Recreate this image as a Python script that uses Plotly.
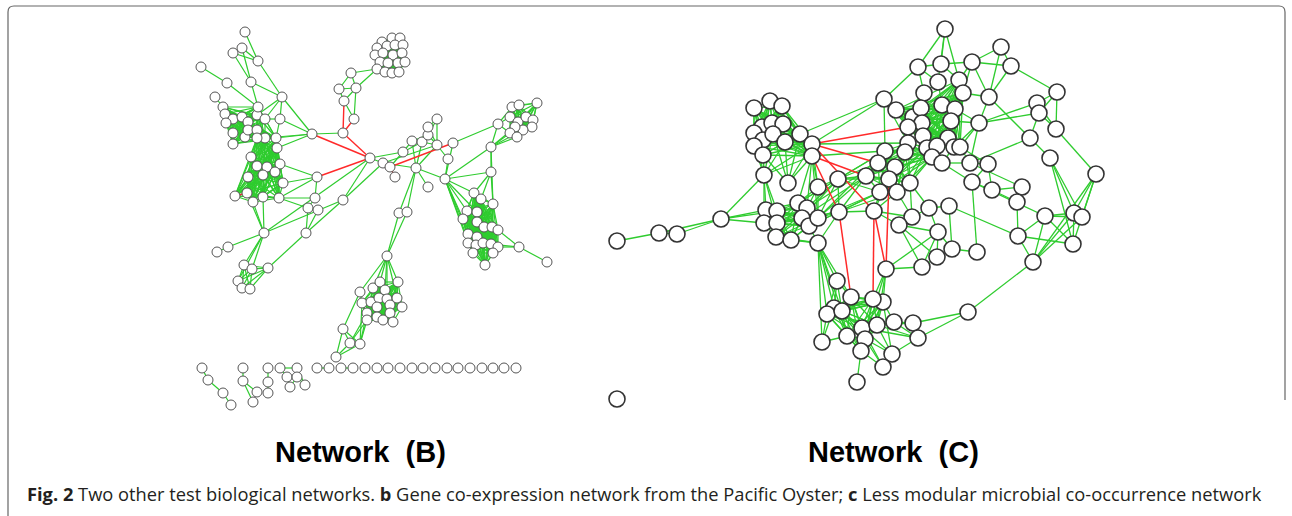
import itertools
import plotly.graph_objects as go

# ---------------- Network B : nodes ----------------
B_NAMES = (["a%d" % i for i in range(1, 12)]
           + ["h1", "h2", "hub", "h3", "h4", "h5", "h6", "h7", "h8"]
           + ["t%d" % i for i in range(1, 6)]
           + ["tc%d" % i for i in range(1, 20)]
           + ["c%d" % i for i in range(1, 31)]
           + ["m%d" % i for i in range(1, 13)] + ["v1", "v2", "v3", "n1", "n2"]
           + ["r%d" % i for i in range(1, 14)]
           + ["s%d" % i for i in range(1, 23)]
           + ["l%d" % i for i in range(1, 11)] + ["w1", "w2"]
           + ["b%d" % i for i in range(1, 20)]
           + ["bb%d" % i for i in range(1, 5)]
           + ["k%d" % i for i in range(1, 18)]
           + ["row%d" % i for i in range(1, 19)])

B_X = ([245, 201, 233, 242, 258, 251, 227, 215, 223, 282, 280]
       + [312, 343, 370, 383, 390, 395, 317, 315, 343]
       + [351, 339, 356, 344, 354]
       + [382, 392, 400, 377, 387, 395, 403, 375, 383, 393, 402, 380, 388, 398, 405, 377, 385, 392, 399]
       + [225, 233, 242, 248, 257, 265, 258, 226, 233, 245, 248, 257, 265, 257, 276, 233, 251, 277, 257, 267,
          280, 275, 263, 248, 283, 247, 235, 253, 263, 279]
       + [403, 412, 422, 428, 428, 437, 437, 453, 448, 416, 428, 445] + [399, 407, 387, 491, 491]
       + [498, 512, 519, 537, 510, 518, 526, 533, 532, 523, 515, 510, 517]
       + [474, 481, 493, 467, 477, 463, 477, 484, 492, 468, 477, 498, 468, 476, 483, 491, 498, 473, 493, 485, 519, 547]
       + [264, 228, 217, 306, 244, 252, 268, 238, 242, 250] + [308, 318]
       + [360, 373, 380, 385, 398, 362, 371, 379, 387, 397, 402, 377, 390, 367, 377, 383, 390, 393, 367]
       + [343, 350, 360, 336]
       + [202, 208, 223, 231, 243, 243, 257, 253, 268, 268, 268, 280, 287, 290, 297, 297, 305]
       + [317, 329, 341, 353, 365, 377, 388, 400, 412, 423, 435, 447, 458, 470, 482, 493, 504, 516])

B_Y = ([32, 67, 53, 48, 61, 82, 83, 97, 107, 97, 119]
       + [134, 133, 158, 163, 167, 177, 177, 198, 200]
       + [73, 89, 88, 101, 119]
       + [42, 38, 38, 48, 46, 45, 45, 55, 53, 55, 53, 62, 63, 63, 62, 69, 72, 73, 72]
       + [114, 119, 117, 122, 115, 119, 107, 123, 133, 137, 130, 130, 138, 138, 138, 144, 157, 148, 166, 167,
          164, 172, 175, 177, 183, 193, 196, 202, 197, 198]
       + [152, 141, 142, 135, 127, 119, 145, 143, 159, 168, 187, 179] + [213, 212, 256, 147, 172]
       + [124, 107, 105, 103, 117, 122, 117, 120, 127, 130, 127, 133, 137]
       + [193, 199, 204, 211, 212, 219, 222, 227, 227, 234, 237, 230, 243, 245, 243, 244, 247, 253, 253, 265, 247, 262]
       + [233, 247, 252, 233, 265, 269, 268, 281, 288, 289] + [208, 210]
       + [292, 288, 282, 290, 282, 303, 302, 298, 299, 298, 307, 307, 305, 313, 317, 320, 313, 322, 320]
       + [329, 343, 344, 357]
       + [368, 380, 393, 405, 368, 381, 392, 402, 368, 382, 393, 368, 377, 387, 368, 377, 385]
       + [368] * 18)

B_GREEN = [("a1", "a5"), ("a3", "a4"), ("a3", "a5"), ("a4", "a5"), ("a3", "a6"), ("a4", "a6"), ("a5", "a10"),
           ("a6", "c7"), ("a6", "a10"), ("a2", "a7"), ("a7", "c7"), ("a8", "a9"), ("a9", "c1"), ("a10", "a11"),
           ("a10", "c5"), ("a10", "c6"), ("a10", "h1"), ("a11", "h1"), ("a11", "c6"), ("a11", "c15"),
           ("c15", "h1"), ("c13", "h1"), ("c18", "h1"), ("h1", "h2"),
           ("t1", "t2"), ("t1", "t3"), ("t2", "t3"), ("t2", "t4"), ("t3", "t4"), ("t3", "t5"), ("t4", "t5"),
           ("t1", "tc16"), ("t3", "tc16"),
           ("hub", "h3"), ("h3", "h4"), ("h3", "m10"), ("h3", "m7"), ("hub", "m1"), ("h4", "m1"),
           ("m1", "m2"), ("m1", "m3"), ("m2", "m3"), ("m2", "m4"), ("m3", "m4"), ("m4", "m5"), ("m5", "m6"),
           ("m4", "m6"), ("m3", "m7"), ("m4", "m7"), ("m6", "m7"), ("m5", "m7"), ("m2", "m10"), ("m3", "m10"),
           ("m7", "m10"), ("m10", "m11"), ("m10", "v1"), ("m10", "v2"), ("m10", "m12"), ("m8", "m12"),
           ("m9", "m12"), ("m7", "m9"), ("m8", "r1"), ("m12", "n1"), ("m12", "n2"),
           ("m12", "s1"), ("m12", "s4"), ("m12", "s6"), ("m12", "s10"), ("m12", "s13"), ("m12", "s18"),
           ("m12", "s5"), ("r1", "r2"), ("r1", "r5"), ("r1", "r12"), ("r1", "n1"), ("n1", "r12"), ("n1", "r13"),
           ("n1", "r11"), ("n1", "r10"), ("n1", "n2"), ("n2", "s1"), ("n2", "s2"), ("n2", "s3"), ("n1", "s3"),
           ("s12", "s21"), ("s17", "s21"), ("s16", "s21"), ("s21", "s22"),
           ("hub", "h8"), ("hub", "l1"), ("h8", "h3"), ("h8", "l1"), ("l1", "l2"), ("l2", "l3"), ("l1", "l5"),
           ("l1", "l6"), ("l1", "l8"), ("l1", "c28"), ("l1", "c29"), ("l1", "c26"), ("l4", "l7"), ("l4", "w1"),
           ("l4", "w2"), ("l4", "h8"), ("w1", "w2"), ("w1", "h7"), ("h6", "c21"), ("h6", "c25"), ("h6", "c30"),
           ("h6", "h7"), ("h7", "c30"), ("w1", "c30"),
           ("v1", "v2"), ("v1", "v3"), ("v2", "v3"), ("v3", "b2"), ("v3", "b3"), ("v3", "b4"), ("v3", "b5"),
           ("v3", "b9"), ("v3", "b10"), ("v3", "b1"), ("b1", "bb1"), ("b1", "b6"), ("bb1", "bb2"),
           ("bb1", "bb3"), ("bb2", "bb3"), ("bb2", "bb4"), ("bb3", "bb4"), ("bb1", "bb4"), ("bb2", "b14"),
           ("bb3", "b14"), ("bb3", "b19"), ("bb2", "b19"), ("bb3", "b6"),
           ("k1", "k2"), ("k2", "k3"), ("k3", "k4"), ("k5", "k6"), ("k6", "k7"), ("k6", "k8"),
           ("k9", "k10"), ("k10", "k11"), ("k12", "k15"), ("k12", "k13"), ("k13", "k16"), ("k15", "k16"),
           ("k15", "k17"), ("k16", "k17"), ("k14", "k16"), ("k13", "k14"),
           ("row1", "row2"), ("row3", "row4")]

B_RED = [("h1", "hub"), ("h2", "hub"), ("h6", "hub"), ("t4", "h2"), ("t5", "h2"), ("h4", "m8"),
         ("h4", "h5"), ("c27", "c26")]

B_GROUPS = [["a9", "c1", "c2", "c3", "c4", "c5", "c6", "c7", "c8", "c9", "c10", "c11", "c12", "c13", "c14",
             "c15", "c16"],
            ["c13", "c14", "c15", "c17", "c18", "c19", "c20", "c21", "c22", "c23", "c24", "c25", "c26", "c27",
             "c28", "c29", "c30"],
            ["tc%d" % i for i in range(1, 20)],
            ["r%d" % i for i in range(2, 14)],
            ["s%d" % i for i in range(1, 21)],
            ["b%d" % i for i in range(2, 20)],
            ["l5", "l6", "l7", "l8", "l9", "l10"]]

# ---------------- Network C : nodes ----------------
C_NAMES = (["p0", "p1", "p2", "p3", "p4"]
           + ["q%d" % i for i in range(1, 18)]
           + ["u%d" % i for i in range(1, 16)]
           + ["d%d" % i for i in range(1, 49)]
           + ["e%d" % i for i in range(1, 15)]
           + ["f%d" % i for i in range(1, 12)]
           + ["g%d" % i for i in range(1, 17)])

C_X = ([617, 617, 659, 677, 721]
       + [754, 770, 782, 762, 772, 783, 754, 763, 773, 785, 800, 754, 763, 812, 812, 764, 788]
       + [766, 777, 798, 807, 764, 777, 802, 809, 818, 776, 791, 818, 818, 838, 839]
       + [945, 1001, 1011, 918, 941, 972, 938, 959, 963, 989, 924, 884, 896, 913, 921, 942, 955, 951, 922, 908,
          979, 923, 908, 948, 927, 937, 954, 960, 885, 905, 878, 895, 932, 942, 970, 988, 866, 889, 910, 880,
          897, 874, 972, 992, 1022, 1017, 929, 949]
       + [1057, 1037, 1039, 1056, 1030, 1050, 1096, 1045, 1074, 1082, 1073, 1018, 1033, 968]
       + [912, 899, 938, 952, 937, 977, 922, 886, 883, 894, 913]
       + [837, 851, 873, 834, 827, 842, 862, 877, 847, 865, 822, 918, 861, 892, 883, 857])

C_Y = ([399, 241, 233, 234, 219]
       + [108, 101, 106, 127, 123, 124, 133, 140, 134, 142, 134, 146, 155, 144, 156, 175, 183]
       + [210, 211, 203, 208, 223, 223, 218, 226, 218, 237, 240, 243, 187, 179, 212]
       + [29, 47, 66, 67, 64, 62, 82, 80, 93, 97, 93, 99, 110, 117, 108, 105, 109, 121, 123, 127,
          123, 136, 143, 138, 148, 146, 147, 147, 151, 152, 163, 167, 157, 163, 163, 164, 176, 179, 183, 192,
          192, 211, 182, 190, 187, 202, 208, 206]
       + [92, 103, 113, 129, 138, 158, 174, 216, 213, 217, 244, 236, 262, 312]
       + [217, 225, 232, 249, 257, 252, 267, 269, 302, 322, 323]
       + [281, 297, 299, 308, 314, 311, 328, 325, 336, 339, 342, 338, 351, 354, 367, 382])

C_GREEN = [("p1", "p2"), ("p2", "p3"), ("p2", "p4"), ("p3", "p4"), ("p4", "q16"), ("p4", "u1"), ("p4", "u5"),
           ("p4", "u2"),
           ("q16", "q12"), ("q16", "q13"), ("q16", "q7"), ("q16", "q8"), ("q16", "q9"), ("q16", "q10"),
           ("q16", "q15"), ("q16", "q14"), ("q16", "u1"), ("q16", "u2"), ("q16", "u5"), ("q16", "u6"),
           ("q17", "q13"), ("q17", "q10"), ("q17", "q15"), ("q17", "q9"), ("q17", "q14"), ("q17", "q11"),
           ("q11", "d12"), ("q14", "d12"), ("q15", "d29"), ("q14", "d23"),
           ("q15", "u3"), ("q15", "u13"), ("q15", "u4"), ("q14", "u13"), ("q15", "u9"),
           ("u13", "u3"), ("u13", "u4"), ("u13", "u9"), ("u13", "u14"), ("u14", "u9"), ("u14", "u4"),
           ("u14", "u7"), ("u14", "u3"), ("u14", "d37"), ("u14", "d31"), ("u14", "d29"), ("u14", "d40"),
           ("u14", "d38"), ("u15", "u9"), ("u15", "u8"), ("u15", "u12"), ("u15", "u14"), ("u15", "d37"),
           ("u15", "d40"), ("u15", "d41"), ("u15", "d42"), ("u15", "u7"),
           ("u12", "g1"), ("u12", "g4"), ("u12", "g5"), ("u12", "g11"), ("u12", "g6"), ("u12", "g9"),
           ("u12", "g2"), ("u12", "u11"), ("u12", "u8"), ("u12", "u10"),
           ("u9", "d37"), ("u9", "d29"), ("u7", "d37"), ("u4", "d31"), ("u3", "d29"), ("u8", "d40"),
           ("u9", "d40"),
           ("d1", "d4"), ("d1", "d5"), ("d1", "d8"), ("d1", "d7"), ("d2", "d6"), ("d2", "d3"), ("d2", "d10"),
           ("d3", "d6"), ("d3", "d10"), ("d3", "e1"), ("d4", "d5"), ("d4", "d11"), ("d4", "d12"), ("d4", "d7"),
           ("d5", "d6"), ("d5", "d8"), ("d6", "d8"), ("d6", "d9"), ("d6", "d10"), ("d8", "d9"), ("d9", "d10"),
           ("d10", "d21"), ("d10", "e5"), ("d12", "d13"), ("d12", "d14"), ("d12", "d20"), ("d12", "d23"),
           ("d12", "d29"), ("d12", "d22"), ("d21", "e2"), ("d21", "e3"), ("d21", "d17"), ("d21", "d18"),
           ("d21", "d27"), ("d21", "d28"), ("d21", "d35"), ("d7", "d11"), ("d11", "d15"), ("d7", "d16"),
           ("e1", "e2"), ("e1", "e3"), ("e1", "e4"), ("e2", "e3"), ("e2", "e4"), ("e3", "e4"), ("e3", "e5"),
           ("e4", "e7"), ("e5", "e6"), ("e5", "d35"), ("e6", "e9"), ("e6", "e10"), ("e6", "e11"), ("e7", "e9"),
           ("e7", "e10"), ("e7", "e11"), ("e7", "e13"), ("e8", "e9"), ("e8", "e10"), ("e8", "e11"),
           ("e8", "e12"), ("e8", "e13"), ("e9", "e13"), ("e10", "e13"), ("e12", "e13"), ("e11", "e12"),
           ("e11", "e9"), ("e13", "e14"), ("e14", "f11"), ("e14", "g12"), ("e12", "d48"), ("e12", "d46"),
           ("d43", "e8"),
           ("d35", "d45"), ("d36", "d43"), ("d36", "d44"), ("d43", "d44"), ("d44", "d45"), ("d45", "d46"),
           ("d44", "d46"), ("d35", "d36"), ("d28", "d35"), ("d28", "d36"), ("d27", "d34"), ("d34", "d35"),
           ("d33", "d34"), ("d34", "d43"), ("d39", "d47"), ("d41", "f1"), ("d40", "d42"), ("d41", "d42"),
           ("d38", "d42"), ("d42", "f2"), ("d42", "f1"), ("d39", "f1"),
           ("f1", "f2"), ("f1", "d47"), ("f2", "f3"), ("f2", "f5"), ("f3", "f4"), ("f3", "f5"), ("f4", "f6"),
           ("f5", "f7"), ("f4", "d48"), ("f3", "d47"), ("f6", "d43"), ("f7", "f8"), ("f8", "g3"), ("f8", "g8"),
           ("f8", "f9"), ("f8", "g10"), ("f3", "f7"), ("f2", "f7"), ("f8", "f3"), ("f9", "f10"), ("f10", "f11"),
           ("f9", "g8"), ("f11", "g12"), ("f10", "g12"), ("g12", "g14"), ("d47", "d48"),
           ("g1", "g2"), ("g1", "g4"), ("g1", "g5"), ("g1", "g6"), ("g11", "g5"), ("g11", "g9"), ("g11", "g4"),
           ("g12", "g8"), ("g12", "g7"), ("g14", "g8"), ("g14", "g10"), ("g14", "f9"), ("g14", "g7"),
           ("g15", "g13"), ("g15", "g10"), ("g15", "g7"), ("g16", "g13"), ("f10", "g8"), ("f10", "g7"),
           ("f11", "g8")]

C_RED = [("q14", "d20"), ("q14", "d31"), ("q15", "d37"), ("q14", "d42"), ("q15", "u15"), ("u15", "g2"),
         ("d42", "g3"), ("d42", "f8"), ("d38", "f8")]

C_GROUPS = [["q%d" % i for i in range(1, 16)],
            ["u%d" % i for i in range(1, 12)],
            ["d8", "d9", "d13", "d14", "d15", "d16", "d17", "d18", "d19", "d20", "d22", "d24", "d25", "d26",
             "d27", "d28"],
            ["d23", "d25", "d29", "d30", "d31", "d32", "d33", "d37", "d38", "d39", "d40", "d41"],
            ["g2", "g3", "g4", "g5", "g6", "g7", "g8", "g9", "g10", "g13", "f9"]]

TITLES = ["Network\u00a0\u00a0(B)", "Network\u00a0\u00a0(C)"]
CAPTION = ("<b>Fig. 2</b> Two other test biological networks. <b>b</b> Gene co-expression network from the "
           "Pacific Oyster; <b>c</b> Less modular microbial co-occurrence network")

GREEN = "#2fcc2f"
RED = "#ff2a2a"


def edge_xy(names, xs, ys, pairs):
    idx = {n: i for i, n in enumerate(names)}
    X, Y = [], []
    for a, b in pairs:
        X += [xs[idx[a]], xs[idx[b]], None]
        Y += [ys[idx[a]], ys[idx[b]], None]
    return X, Y


def all_green(edges, groups):
    seen, out = set(), []
    for g in groups:
        for a, b in itertools.combinations(g, 2):
            k = tuple(sorted((a, b)))
            if k not in seen:
                seen.add(k)
                out.append((a, b))
    for a, b in edges:
        k = tuple(sorted((a, b)))
        if k not in seen:
            seen.add(k)
            out.append((a, b))
    return out


fig = go.Figure()

for names, xs, ys, green, red, groups, lw, msize, mline, mcol in [
        (B_NAMES, B_X, B_Y, B_GREEN, B_RED, B_GROUPS, 1.2, 10, 1.0, "#555555"),
        (C_NAMES, C_X, C_Y, C_GREEN, C_RED, C_GROUPS, 1.3, 16, 1.6, "#333333")]:
    gx, gy = edge_xy(names, xs, ys, all_green(green, groups))
    fig.add_trace(go.Scatter(x=gx, y=gy, mode="lines", line=dict(color=GREEN, width=lw),
                             hoverinfo="skip", showlegend=False))
    rx, ry = edge_xy(names, xs, ys, red)
    fig.add_trace(go.Scatter(x=rx, y=ry, mode="lines", line=dict(color=RED, width=lw + 0.2),
                             hoverinfo="skip", showlegend=False))
    fig.add_trace(go.Scatter(x=xs, y=ys, mode="markers", text=names, hoverinfo="text",
                             marker=dict(size=msize, color="white", line=dict(color=mcol, width=mline)),
                             showlegend=False))

fig.add_annotation(x=360, y=452, text="<b>%s</b>" % TITLES[0], showarrow=False,
                   font=dict(family="Liberation Sans, Arial", size=29, color="black"))
fig.add_annotation(x=893, y=452, text="<b>%s</b>" % TITLES[1], showarrow=False,
                   font=dict(family="Liberation Sans, Arial", size=29, color="black"))
fig.add_annotation(x=25, y=493, xanchor="left", text=CAPTION, showarrow=False,
                   font=dict(family="Open Sans", size=18.3, color="#231f20"))

fig.add_shape(type="path",
              path="M 8,516 L 8,12 Q 8,6 14,6 L 1279,6 Q 1285,6 1285,12 L 1285,400",
              line=dict(color="#666666", width=1.2), layer="below")

fig.update_layout(width=1292, height=516, margin=dict(l=0, r=0, t=0, b=0),
                  paper_bgcolor="white", plot_bgcolor="white",
                  xaxis=dict(range=[0, 1292], visible=False, fixedrange=True),
                  yaxis=dict(range=[516, 0], visible=False, fixedrange=True))

fig.write_html("out.html", config={"displayModeBar": False},
               post_script="document.body.style.margin='0';document.body.style.overflow='hidden';")
